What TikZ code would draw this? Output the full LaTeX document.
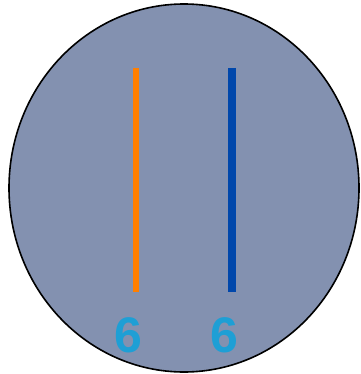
\documentclass[tikz,border=0pt]{standalone}
\usepackage{fontspec}
\setmainfont{Liberation Sans}
\definecolor{disc}{HTML}{8391B0}
\definecolor{orangeline}{HTML}{FF7F00}
\definecolor{blueline}{HTML}{0047AB}
\definecolor{numblue}{HTML}{1E9FD5}
\begin{document}
\begin{tikzpicture}[x=1pt,y=-1pt,
  bar/.style={line width=#1},
  num/.style={font=\fontsize{50}{50}\selectfont\bfseries, text=numblue, inner sep=0pt, anchor=base}]
\useasboundingbox (0,0) rectangle (360,374);
\draw[fill=disc, line width=1.6pt] (184,188) ellipse [x radius=175, y radius=184];
\coordinate (o1) at (136,68);
\coordinate (o2) at (136,292);
\coordinate (b1) at (232,68);
\coordinate (b2) at (232,292);
\draw[orangeline, bar=6pt] (o1) -- (o2);
\draw[blueline, bar=8pt] (b1) -- (b2);
\node[num] (n1) at (128,352) {6};
\node[num] (n2) at (224,352) {6};
\end{tikzpicture}
\end{document}
